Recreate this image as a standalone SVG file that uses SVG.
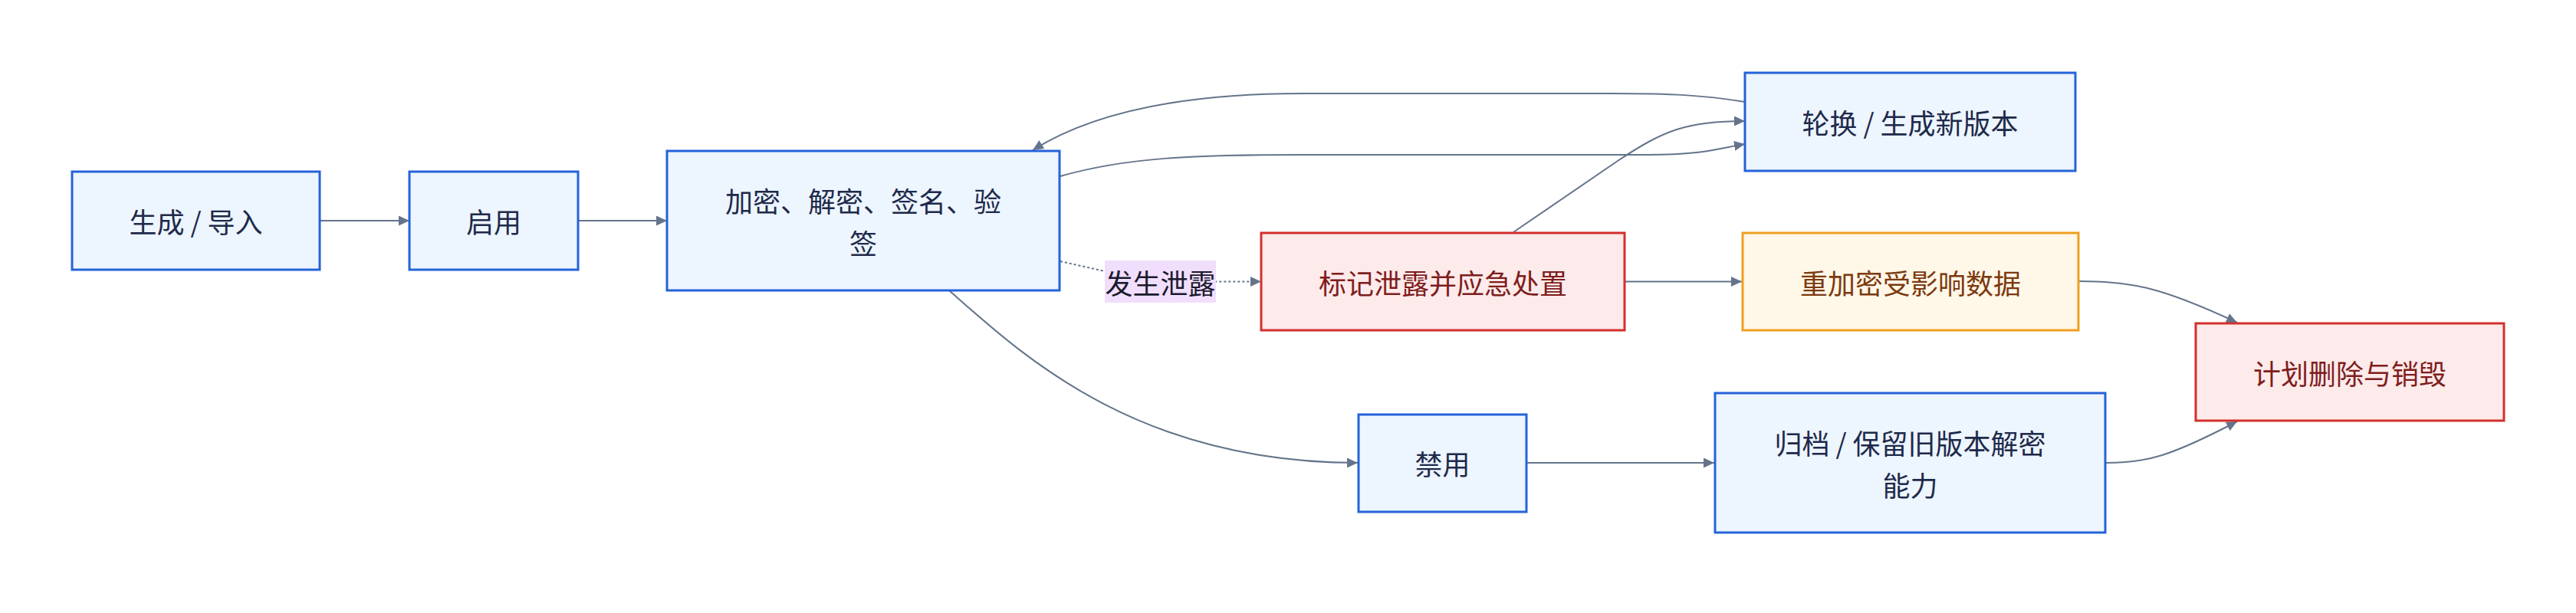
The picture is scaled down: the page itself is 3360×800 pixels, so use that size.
<svg xmlns="http://www.w3.org/2000/svg" width="3360" height="800" viewBox="0 0 3360 800">
<style>
  .blue rect { fill:#edf5ff; stroke:#2563d9; stroke-width:3; }
  .blue text { fill:#1e2a4a; }
  .red rect { fill:#fdeaea; stroke:#d32f2f; stroke-width:3; }
  .red text { fill:#7f1d1d; }
  .orange rect { fill:#fff7e8; stroke:#f0a01e; stroke-width:3; }
  .orange text { fill:#7c3a10; }
  text { font-family:"Noto Sans CJK SC","Noto Sans",sans-serif; font-size:36px; text-anchor:middle; dominant-baseline:central; }
  .edge { fill:none; stroke:#64748b; stroke-width:2; }
  .dotted { stroke-dasharray:3 3; }
  .lbl rect { fill:#f1defc; stroke:none; }
  .lbl text { fill:#1a1a2e; }
</style>
<defs>
  <marker id="arr" markerUnits="userSpaceOnUse" markerWidth="16" markerHeight="14" refX="14" refY="6.5" orient="auto">
    <path d="M0,0 L14,6.5 L0,13 z" fill="#64748b"/>
  </marker>
</defs>
<rect width="3360" height="800" fill="#ffffff"/>
<g id="edges">
  <path class="edge" d="M417,288 L534,288" marker-end="url(#arr)"/>
  <path class="edge" d="M754,288 L870,288" marker-end="url(#arr)"/>
  <path class="edge" d="M1383,230 C1470,205 1560,202 1700,202 L2150,202 C2220,202 2240,194 2276,188" marker-end="url(#arr)"/>
  <path class="edge" d="M2276,133 C2220,124 2180,122 2100,122 L1700,122 C1530,122 1420,150 1347,196" marker-end="url(#arr)"/>
  <path class="edge" d="M1238,379 C1330,460 1480,604 1771,604" marker-end="url(#arr)"/>
  <path class="edge" d="M1974,303 L2110,210 C2170,170 2200,158 2276,158" marker-end="url(#arr)"/>
  <path class="edge" d="M2119,367.5 L2272,367.5" marker-end="url(#arr)"/>
  <path class="edge dotted" d="M1383,341 L1441,354 L1513,367.5 L1645,367.5" marker-end="url(#arr)"/>
  <path class="edge" d="M2711,367 C2780,367 2820,375 2918,421" marker-end="url(#arr)"/>
  <path class="edge" d="M2747,604 C2800,604 2830,596 2918,550" marker-end="url(#arr)"/>
  <path class="edge" d="M1991,604 L2236,604" marker-end="url(#arr)"/>
</g>
<g id="edge-label" class="lbl">
  <rect x="1441" y="340" width="145" height="55"/>
  <text x="1513.5" y="367.5">发生泄露</text>
</g>
<g id="n-generate" class="blue">
  <rect x="94" y="224" width="323" height="128"/>
  <text x="255.5" y="288">生成 / 导入</text>
</g>
<g id="n-enable" class="blue">
  <rect x="534" y="224" width="220" height="128"/>
  <text x="644" y="288">启用</text>
</g>
<g id="n-use" class="blue">
  <rect x="870" y="197" width="512" height="182"/>
  <text x="1126" y="261">加密、解密、签名、验</text>
  <text x="1126" y="316">签</text>
</g>
<g id="n-rotate" class="blue">
  <rect x="2276" y="95" width="431" height="128"/>
  <text x="2491.5" y="159">轮换 / 生成新版本</text>
</g>
<g id="n-leak" class="red">
  <rect x="1645" y="304" width="474" height="127"/>
  <text x="1882" y="367.5">标记泄露并应急处置</text>
</g>
<g id="n-reencrypt" class="orange">
  <rect x="2273" y="304" width="438" height="127"/>
  <text x="2492" y="367.5">重加密受影响数据</text>
</g>
<g id="n-destroy" class="red">
  <rect x="2864" y="422" width="402" height="127"/>
  <text x="3065" y="485.5">计划删除与销毁</text>
</g>
<g id="n-disable" class="blue">
  <rect x="1772" y="541" width="219" height="127"/>
  <text x="1881.5" y="604">禁用</text>
</g>
<g id="n-archive" class="blue">
  <rect x="2237" y="513" width="509" height="182"/>
  <text x="2491.5" y="577">归档 / 保留旧版本解密</text>
  <text x="2491.5" y="632">能力</text>
</g>
</svg>
